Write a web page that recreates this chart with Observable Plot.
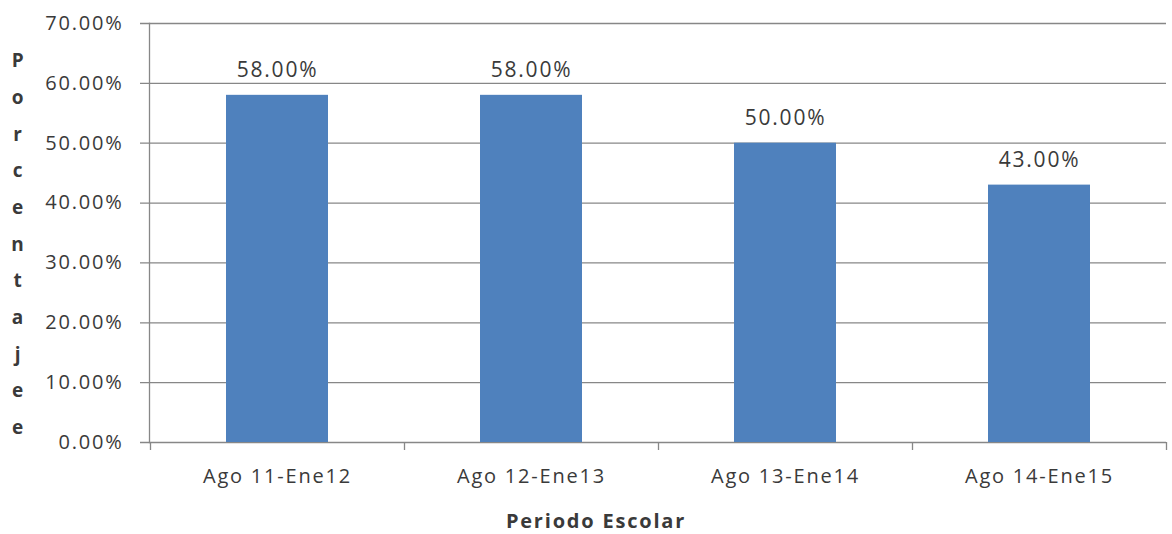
<!DOCTYPE html>
<html>
<head>
<meta charset="utf-8">
<script src="https://cdn.jsdelivr.net/npm/d3@7"></script>
<script src="https://cdn.jsdelivr.net/npm/@observablehq/plot@0.6"></script>
<style>
  html, body { margin: 0; padding: 0; background: #fff; }
  svg text { letter-spacing: 1.8px; }
</style>
</head>
<body>
<div id="chart"></div>
<script>
const categories = ["Ago 11-Ene12", "Ago 12-Ene13", "Ago 13-Ene14", "Ago 14-Ene15"];
const values = [58, 58, 50, 43];
const yTicks = [0, 10, 20, 30, 40, 50, 60, 70];
const yTitle = "Porcentajee";
const xTitle = "Periodo Escolar";

const data = categories.map((c, i) => ({cat: c, v: values[i]}));
const fmt = d => d.toFixed(2) + "%";
const grid = "#878787";
const ink = "#3a3a3a";

const chart = Plot.plot({
  width: 1172,
  height: 534,
  marginLeft: 149,
  marginRight: 6,
  marginTop: 23,
  marginBottom: 92,
  style: {fontFamily: "'Open Sans', sans-serif", color: ink, background: "#fff"},
  x: {domain: categories, paddingInner: 0.6, paddingOuter: 0.3, label: null},
  y: {domain: [0, 70], label: null},
  marks: [
    Plot.ruleY(yTicks, {stroke: grid, strokeWidth: 1.3, insetLeft: -9}),
    Plot.frame({anchor: "left", stroke: grid, strokeWidth: 1.3}),
    Plot.ruleX(categories, {x: d => d, y1: 0, y2: 0, insetBottom: -8, dx: -127, stroke: grid, strokeWidth: 1.3}),
    Plot.ruleX(categories.slice(-1), {x: d => d, y1: 0, y2: 0, insetBottom: -8, dx: 127, stroke: grid, strokeWidth: 1.3}),
    Plot.barY(data, {x: "cat", y: "v", fill: "#4f81bd"}),
    Plot.text(data, {x: "cat", y: "v", text: d => fmt(d.v), dy: -25, lineAnchor: "middle", fontSize: 21, fill: ink}),
    Plot.axisY({ticks: yTicks, tickSize: 0, tickPadding: 26, tickFormat: fmt, fontSize: 20, fill: ink, label: null}),
    Plot.axisX({tickSize: 0, tickPadding: 26, fontSize: 20, fill: ink, label: null}),
    Plot.text([yTitle.split("").join("\n")], {frameAnchor: "left", dx: -131, dy: 6, lineHeight: 1.93, lineAnchor: "middle", textAnchor: "middle", fontWeight: "bold", fontSize: 19, fill: ink}),
    Plot.text([xTitle], {frameAnchor: "bottom", dx: -62, dy: 79, lineAnchor: "middle", fontWeight: "bold", fontSize: 20, fill: ink})
  ]
});
document.getElementById("chart").appendChild(chart);
</script>
</body>
</html>
